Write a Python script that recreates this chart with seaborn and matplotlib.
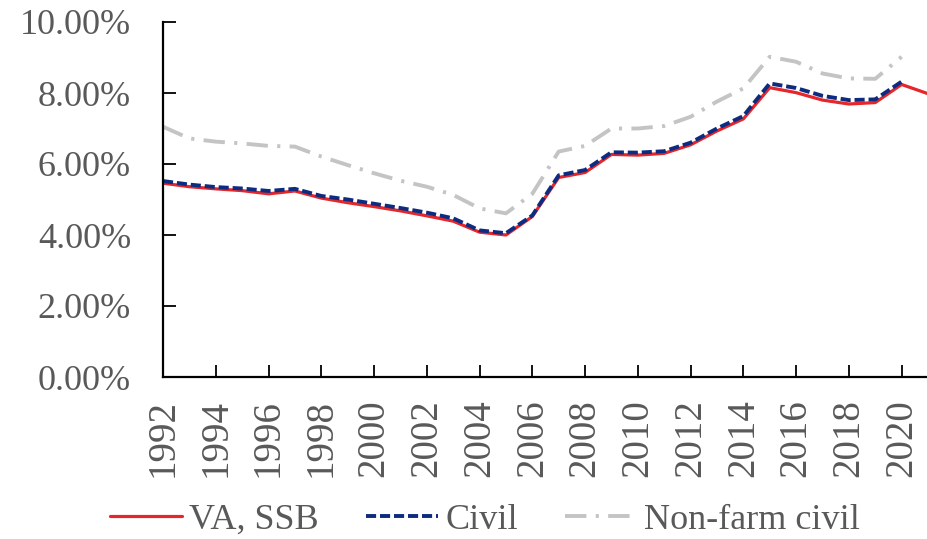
import seaborn as sns
import pandas as pd
import matplotlib
matplotlib.use("Agg")
import matplotlib.pyplot as plt
from matplotlib.ticker import FuncFormatter, MultipleLocator

# values (percent)
years = list(range(1992, 2022))
va_ssb = [5.46, 5.36, 5.30, 5.25, 5.16, 5.24, 5.04, 4.91, 4.80, 4.68,
          4.54, 4.39, 4.08, 4.00, 4.52, 5.62, 5.76, 6.27, 6.25, 6.30,
          6.54, 6.93, 7.27, 8.15, 8.01, 7.80, 7.69, 7.73, 8.24, 7.98]
civil = [5.52, 5.42, 5.35, 5.31, 5.24, 5.30, 5.10, 5.00, 4.88, 4.76,
         4.63, 4.47, 4.13, 4.05, 4.55, 5.68, 5.83, 6.33, 6.32, 6.36,
         6.60, 7.00, 7.35, 8.27, 8.14, 7.92, 7.80, 7.82, 8.32]
non_farm = [7.05, 6.72, 6.63, 6.58, 6.51, 6.49, 6.21, 5.97, 5.74, 5.53,
            5.36, 5.13, 4.75, 4.61, 5.16, 6.35, 6.51, 7.00, 7.00, 7.07,
            7.33, 7.76, 8.13, 9.02, 8.88, 8.55, 8.41, 8.40, 9.02]

sns.set_theme(style="white")
text_grey = '#595959'
plt.rcParams.update({
    'font.family': ['Liberation Serif', 'DejaVu Serif'],
    'xtick.direction': 'in',
    'ytick.direction': 'in',
    'xtick.major.pad': 16,
    'ytick.major.pad': 23,
    'xtick.major.size': 9,
    'ytick.major.size': 9,
    'xtick.major.width': 1.3,
    'ytick.major.width': 1.3,
    'xtick.color': 'black',
    'ytick.color': 'black',
    'xtick.labelcolor': text_grey,
    'ytick.labelcolor': text_grey,
    'xtick.labelsize': 28,
    'ytick.labelsize': 26,
    'xtick.bottom': True,
    'ytick.left': True,
})

fig = plt.figure(figsize=(9.28, 5.39), dpi=100)
ax = fig.add_axes([163 / 928, 1 - 377 / 539, 1 - 163 / 928, (377 - 22) / 539])

sns.lineplot(x=years, y=va_ssb, color='#e5262a', linewidth=2.3,
             label='VA, SSB', ax=ax)
sns.lineplot(x=years[:len(civil)], y=civil, color='#0d2c80', linewidth=2.8,
             linestyle=(0, (2.6, 1.0)), label='Civil', ax=ax)
sns.lineplot(x=years[:len(non_farm)], y=non_farm, color='#c4c4c4', linewidth=2.8,
             linestyle=(0, (5.5, 2.4, 0.8, 2.4)), label='Non-farm civil', ax=ax)

ax.set_xlim(1992, 2021)
ax.set_ylim(0, 10)
ax.xaxis.set_major_locator(MultipleLocator(2))
ax.yaxis.set_major_locator(MultipleLocator(2))
ax.yaxis.set_major_formatter(FuncFormatter(lambda v, p: f"{v:.2f}%"))

for side in ['top', 'right']:
    ax.spines[side].set_visible(False)
for side in ['left', 'bottom']:
    ax.spines[side].set_color('black')
    ax.spines[side].set_linewidth(1.6)

plt.setp(ax.get_xticklabels(), rotation=90)
ax.set_xlabel('')
ax.set_ylabel('')

handles, labels = ax.get_legend_handles_labels()
ax.get_legend().remove()
fig.legend(handles, labels, loc='center', bbox_to_anchor=(485 / 928, 1 - 520 / 539),
           ncol=3, frameon=False, fontsize=26, labelcolor=text_grey,
           handlelength=2.0, handletextpad=0.2, columnspacing=1.3)

fig.savefig('out.png', dpi=100)
